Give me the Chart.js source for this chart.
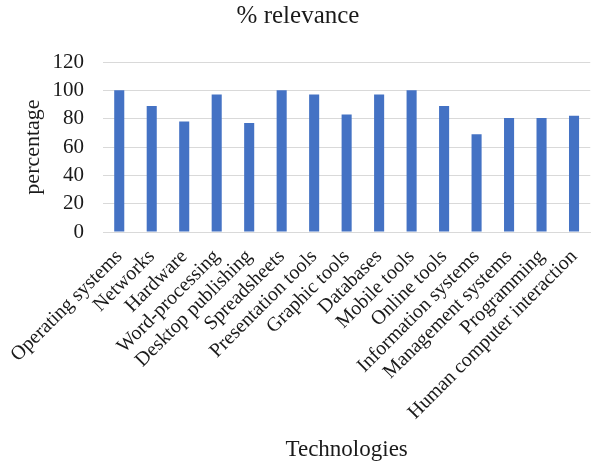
<!DOCTYPE html>
<html>
<head>
<meta charset="utf-8">
<script src="https://cdn.jsdelivr.net/npm/chart.js@4.4.0/dist/chart.umd.min.js"></script>
<style>
  html, body { margin: 0; padding: 0; background: #fff; }
  #wrap { width: 596px; height: 464px; }
</style>
</head>
<body>
<div id="wrap"><canvas id="chart"></canvas></div>
<script>
const technologies = [
  'Operating systems', 'Networks', 'Hardware', 'Word-processing', 'Desktop publishing',
  'Spreadsheets', 'Presentation tools', 'Graphic tools', 'Databases', 'Mobile tools',
  'Online tools', 'Information systems', 'Management systems', 'Programming',
  'Human computer interaction'
];
const relevance = [100, 89, 78, 97, 77, 100, 97, 83, 97, 100, 89, 69, 80.5, 80.5, 82];
const yTicks = [0, 20, 40, 60, 80, 100, 120];

const serif = 'Liberation Serif, Times New Roman, serif';
Chart.defaults.font.family = serif;
Chart.defaults.color = '#1a1a1a';

new Chart(document.getElementById('chart'), {
  type: 'bar',
  data: {
    labels: technologies,
    datasets: [{
      data: relevance,
      backgroundColor: '#4472c4',
      categoryPercentage: 1,
      barPercentage: 0.31
    }]
  },
  options: {
    responsive: true,
    maintainAspectRatio: false,
    animation: false,
    layout: { padding: { left: 0, right: 0, top: 0, bottom: 0 } },
    plugins: {
      legend: { display: false },
      tooltip: { enabled: false },
      title: {
        display: true,
        text: '% relevance',
        font: { size: 25, weight: 'normal' },
        padding: { top: 1, bottom: 31 }
      }
    },
    scales: {
      x: {
        grid: { display: false },
        border: { display: true, color: '#d9d9d9' },
        ticks: {
          minRotation: 45,
          maxRotation: 45,
          autoSkip: false,
          padding: 5,
          font: { size: 20 }
        },
        title: {
          display: true,
          text: 'Technologies',
          font: { size: 23 },
          padding: { top: 10, bottom: 0 }
        }
      },
      y: {
        min: 0,
        max: 120,
        afterBuildTicks: scale => { scale.ticks = yTicks.map(v => ({ value: v })); },
        afterFit: scale => { scale.width = 103; },
        grid: { color: '#d9d9d9', drawTicks: false },
        border: { display: false },
        ticks: { padding: 19, font: { size: 21 } },
        title: {
          display: true,
          text: 'percentage',
          font: { size: 22 },
          padding: { top: 20, bottom: 0 }
        }
      }
    }
  }
});
</script>
</body>
</html>
